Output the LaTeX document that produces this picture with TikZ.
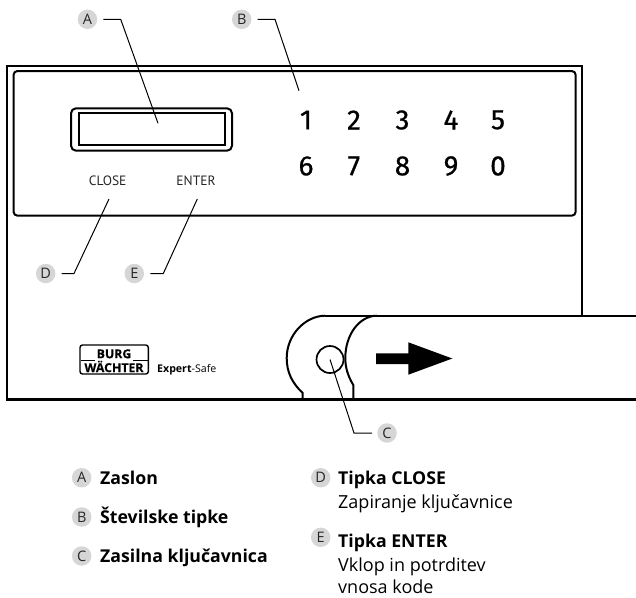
\documentclass[tikz,border=0pt]{standalone}
\usepackage{fontspec}
\setmainfont{Open Sans}
\newfontfamily\keyfont[FakeBold=0.6]{Fira Sans}
\newfontfamily\logofont[FakeBold=0.5]{Open Sans Bold}
\newfontfamily\smallfont{PT Sans}
\definecolor{badge}{gray}{0.84}
\tikzset{
  x=1pt,y=-1pt,
  lbadge/.style={circle,fill=badge,minimum size=19.5pt,inner sep=0pt,font=\fontsize{14.5}{14}\selectfont,text=black!85},
  lead/.style={draw=black,line width=1pt},
  heavy/.style={draw=black,line width=2.5pt},
  med/.style={draw=black,line width=2pt},
  digit/.style={font=\keyfont\fontsize{28}{28}\selectfont,inner sep=0pt},
  keylab/.style={font=\smallfont\fontsize{13.5}{14}\selectfont,inner sep=0pt,text=black!85},
  logotext/.style={inner sep=0pt,font=\logofont\fontsize{12.3}{10}\selectfont},
  legh/.style={anchor=base west,inner sep=0pt,font=\fontsize{17.7}{17}\selectfont\bfseries},
  legt/.style={anchor=base west,inner sep=0pt,font=\fontsize{18}{17}\selectfont},
}
\begin{document}
\begin{tikzpicture}
\useasboundingbox (0,0) rectangle (636,597);
% housing
\draw[heavy] (7,400.5) -- (7,66) -- (582,66) -- (582,315.7);
\draw[heavy] (7,399.5) -- (636,399.5);
% panel
\draw[med,rounded corners=4pt] (13.5,71) rectangle (575.7,215.7);
% display
\draw[med,rounded corners=5pt] (71,108.3) rectangle (232,150.7);
\draw[med] (78.7,113.3) rectangle (225,145.3);
% handle
\draw[med] (325,315.7) -- (636,315.7);
\draw[med] (302.7,399.5) -- (302.7,393) .. controls (292,383) and (286.7,372) .. (286.7,358) .. controls (286.7,335) and (305,316) .. (325,315.7);
\draw[med] (353.3,399.5) -- (353.3,385) .. controls (348,376) and (345.3,368) .. (345.3,358) .. controls (345.3,335) and (359,316) .. (376.7,315.7);
\node[draw=black,line width=1.7pt,circle,minimum size=27pt,inner sep=0pt] (lock) at (330,359.5) {};
% arrow
\fill (376,353.3) -- (408.3,353.3) -- (408.3,342.3) -- (452.3,358.5) -- (408.3,374.7) -- (408.3,364) -- (376,364) -- cycle;
% digits
\foreach \d/\x/\y in {1/306/120,2/354/120,3/402.5/120,4/451/120,5/498/120,6/306/166,7/354/166,8/402.5/166,9/451/166,0/498/166}
  \node[digit] (k\d) at (\x,\y) {\d};
\node[keylab] (close) at (107.7,181) {CLOSE};
\node[keylab] (enter) at (196,181) {ENTER};
% logo
\draw[line width=1.4pt,rounded corners=2.5pt] (80,345) rectangle (148.3,374);
\draw[line width=1pt] (81,360.5) -- (95,360.5) (133,360.5) -- (148,360.5);
\node[logotext] (burg) at (114,353.8) {BURG};
\node[logotext] (wach) at (114,366.5) {WÄCHTER};
\node[anchor=base west,inner sep=0pt,font=\fontsize{10.6}{10}\selectfont] (expert) at (157,372.5) {\textbf{Expert}-Safe};
% callouts
\node[lbadge] (A) at (87.5,19.3) {A};
\node[lbadge] (B) at (241.7,19.3) {B};
\node[lbadge] (D) at (45.7,273.5) {D};
\node[lbadge] (E) at (134.3,273.5) {E};
\node[lbadge] (C) at (387,433) {C};
\coordinate (Ae) at (158,123.3);
\coordinate (Be) at (299,90.7);
\coordinate (De) at (109,199);
\coordinate (Ee) at (197.3,199);
\coordinate (Ce) at (330,359.5);
\draw[lead] (A.east)++(6,0) -- (120.7,19.3) -- (Ae);
\draw[lead] (B.east)++(6,0) -- (275,19.3) -- (Be);
\draw[lead] (D.east)++(6,0) -- (74,273.5) -- (De);
\draw[lead] (E.east)++(6,0) -- (163.3,273.5) -- (Ee);
\draw[lead] (C.west)++(-5,0) -- (354,433) -- (Ce);
% legend
\node[lbadge] (la) at (81.7,477.7) {A};
\node[lbadge] (lb) at (81.7,517) {B};
\node[lbadge] (lc) at (81.7,556) {C};
\node[legh] at (100,484) {Zaslon};
\node[legh] at (100,523) {Številske tipke};
\node[legh] at (100,562) {Zasilna ključavnica};
\node[lbadge] (ld) at (320.7,477.7) {D};
\node[lbadge] (le) at (320.7,537.3) {E};
\node[legh] at (338,484) {Tipka CLOSE};
\node[legt] at (338,508) {Zapiranje ključavnice};
\node[legh] at (338,547) {Tipka ENTER};
\node[legt] at (338,571.5) {Vklop in potrditev};
\node[legt] at (338,593) {vnosa kode};
\end{tikzpicture}
\end{document}
